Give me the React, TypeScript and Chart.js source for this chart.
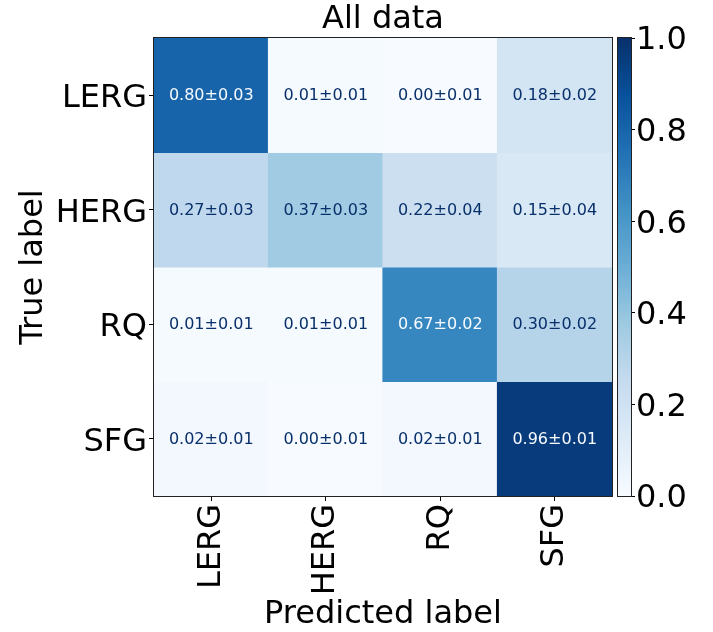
import React, { useEffect, useRef } from "react";
import { Chart, registerables } from "chart.js";

Chart.register(...registerables);

const chartTitle = "All data";
const classLabels = ["LERG", "HERG", "RQ", "SFG"];
const xAxisTitle = "Predicted label";
const yAxisTitle = "True label";

// mean fraction per true label (rows) over predicted label (columns)
const meanLERG = [0.8, 0.01, 0.0, 0.18];
const meanHERG = [0.27, 0.37, 0.22, 0.15];
const meanRQ = [0.01, 0.01, 0.67, 0.3];
const meanSFG = [0.02, 0.0, 0.02, 0.96];

// standard deviations
const stdLERG = [0.03, 0.01, 0.01, 0.02];
const stdHERG = [0.03, 0.03, 0.04, 0.04];
const stdRQ = [0.01, 0.01, 0.02, 0.02];
const stdSFG = [0.01, 0.01, 0.01, 0.01];

const colorbarTicks = [0.0, 0.2, 0.4, 0.6, 0.8, 1.0];

const BLUES = [
  [247, 251, 255],
  [222, 235, 247],
  [198, 219, 239],
  [158, 202, 225],
  [107, 174, 214],
  [66, 146, 198],
  [33, 113, 181],
  [8, 81, 156],
  [8, 48, 107],
];

const FONT = "'DejaVu Sans', 'Liberation Sans', sans-serif";

function blues(v: number): string {
  const lo = colorbarTicks[0];
  const hi = colorbarTicks[colorbarTicks.length - 1];
  let t = (v - lo) / (hi - lo);
  t = Math.max(0, Math.min(1, t));
  const p = t * (BLUES.length - 1);
  const i = Math.min(BLUES.length - 2, Math.floor(p));
  const f = p - i;
  const a = BLUES[i];
  const b = BLUES[i + 1];
  const c = a.map((x, k) => Math.round(x + (b[k] - x) * f));
  return `rgb(${c[0]},${c[1]},${c[2]})`;
}

const means = [meanLERG, meanHERG, meanRQ, meanSFG];
const stds = [stdLERG, stdHERG, stdRQ, stdSFG];

const W = 713;
const H = 632;

const framePlugin = {
  id: "frame",
  afterDatasetsDraw(chart: any) {
    const { ctx, chartArea } = chart;
    const { left, top, right, bottom } = chartArea;
    ctx.save();
    ctx.strokeStyle = "#222";
    ctx.lineWidth = 1;
    ctx.strokeRect(
      Math.round(left) - 0.5,
      Math.round(top) - 0.5,
      Math.round(right) - Math.round(left) + 1,
      Math.round(bottom) - Math.round(top) + 1
    );
    ctx.restore();
  },
};

const cellTextPlugin = {
  id: "cellText",
  afterDatasetsDraw(chart: any) {
    const ctx = chart.ctx;
    const all = means.flat();
    const thr = (Math.max(...all) + Math.min(...all)) / 2;
    ctx.save();
    ctx.font = `16px ${FONT}`;
    ctx.textAlign = "center";
    ctx.textBaseline = "middle";
    means.forEach((row, r) => {
      const meta = chart.getDatasetMeta(r);
      row.forEach((v, c) => {
        const el = meta.data[c];
        if (!el) return;
        const p = el.getProps(["x", "y", "base"], true);
        ctx.fillStyle = v > thr ? "#f7fbff" : "#08306b";
        ctx.fillText(
          `${v.toFixed(2)}±${stds[r][c].toFixed(2)}`,
          p.x,
          (p.y + p.base) / 2 + 1
        );
      });
    });
    ctx.restore();
  },
};

export default function App() {
  const mainRef = useRef<HTMLCanvasElement | null>(null);
  const cbRef = useRef<HTMLCanvasElement | null>(null);

  useEffect(() => {
    Chart.defaults.font.family = FONT;
    Chart.defaults.color = "#000";

    const datasets = means.map((row, r) => ({
      label: classLabels[r],
      data: row.map(() => [r, r + 1]),
      backgroundColor: row.map((v) => blues(v)),
      borderWidth: 0,
      inflateAmount: 0.6,
      barPercentage: 1,
      categoryPercentage: 1,
      grouped: false,
    }));

    const main = new Chart(mainRef.current as HTMLCanvasElement, {
      type: "bar",
      data: { labels: classLabels, datasets: datasets as any },
      options: {
        responsive: false,
        animation: false,
        layout: { padding: { left: 0, top: 0, right: 101, bottom: 0 } },
        plugins: {
          legend: { display: false },
          tooltip: { enabled: false },
          title: {
            display: true,
            text: chartTitle,
            fullSize: false,
            color: "#000",
            font: { size: 32, lineHeight: 1, weight: "normal" },
            padding: { top: 4, bottom: 2 },
          },
        },
        scales: {
          x: {
            type: "category",
            offset: true,
            grid: {
              offset: false,
              drawOnChartArea: false,
              drawTicks: true,
              tickLength: 5,
              color: "#000",
            },
            border: { display: false },
            ticks: {
              minRotation: 90,
              maxRotation: 90,
              autoSkip: false,
              padding: 3,
              color: "#000",
              font: { size: 32 },
            },
            title: {
              display: true,
              text: xAxisTitle,
              color: "#000",
              font: { size: 32, lineHeight: 1 },
              padding: { top: 0, bottom: 1.5 },
            },
            afterFit: (s: any) => {
              s.height = 136;
            },
          },
          y: {
            type: "linear",
            min: 0,
            max: classLabels.length,
            reverse: true,
            afterBuildTicks: (s: any) => {
              s.ticks = classLabels.map((_, i) => ({ value: i + 0.5 }));
            },
            grid: {
              drawOnChartArea: false,
              drawTicks: true,
              tickLength: 5,
              color: "#000",
            },
            border: { display: false },
            ticks: {
              autoSkip: false,
              padding: 2,
              labelOffset: 3.5,
              color: "#000",
              font: { size: 32 },
              callback: (_v: any, i: number) => classLabels[i],
            },
            title: {
              display: true,
              text: yAxisTitle,
              color: "#000",
              font: { size: 32 },
              padding: { top: 14.5, bottom: 0 },
            },
            afterFit: (s: any) => {
              s.width = 154;
            },
          },
        },
      } as any,
      plugins: [cellTextPlugin, framePlugin],
    });

    const cbMin = colorbarTicks[0];
    const cbMax = colorbarTicks[colorbarTicks.length - 1];

    const cb = new Chart(cbRef.current as HTMLCanvasElement, {
      type: "bar",
      data: {
        labels: [""],
        datasets: [
          {
            data: [[cbMin, cbMax]] as any,
            backgroundColor: (c: any) => {
              const area = c.chart.chartArea;
              if (!area) return blues(cbMin);
              const g = c.chart.ctx.createLinearGradient(0, area.bottom, 0, area.top);
              BLUES.forEach((col, i) => {
                g.addColorStop(i / (BLUES.length - 1), `rgb(${col[0]},${col[1]},${col[2]})`);
              });
              return g;
            },
            borderWidth: 0,
            barPercentage: 1,
            categoryPercentage: 1,
          },
        ],
      },
      options: {
        responsive: false,
        animation: false,
        layout: { padding: { left: 18, top: 38, right: 0, bottom: 136 } },
        plugins: {
          legend: { display: false },
          tooltip: { enabled: false },
        },
        scales: {
          x: { display: false },
          y: {
            type: "linear",
            position: "right",
            min: cbMin,
            max: cbMax,
            afterBuildTicks: (s: any) => {
              s.ticks = colorbarTicks.map((v) => ({ value: v }));
            },
            grid: {
              drawOnChartArea: false,
              drawTicks: true,
              tickLength: 4,
              color: "#000",
            },
            border: { display: false },
            ticks: {
              autoSkip: false,
              padding: 1,
              labelOffset: 3,
              color: "#000",
              font: { size: 32 },
              callback: (v: any) => Number(v).toFixed(1),
            },
            afterFit: (s: any) => {
              s.width = 82;
            },
          },
        },
      } as any,
      plugins: [framePlugin],
    });

    return () => {
      main.destroy();
      cb.destroy();
    };
  }, []);

  return (
    <div style={{ position: "absolute", left: 0, top: 0, width: W, height: H, background: "#fff" }}>
      <canvas
        ref={mainRef}
        width={W}
        height={H}
        style={{ position: "absolute", left: 0, top: 0, width: W, height: H }}
      />
      <canvas
        ref={cbRef}
        width={113}
        height={H}
        style={{ position: "absolute", left: 600, top: 0, width: 113, height: H }}
      />
    </div>
  );
}
